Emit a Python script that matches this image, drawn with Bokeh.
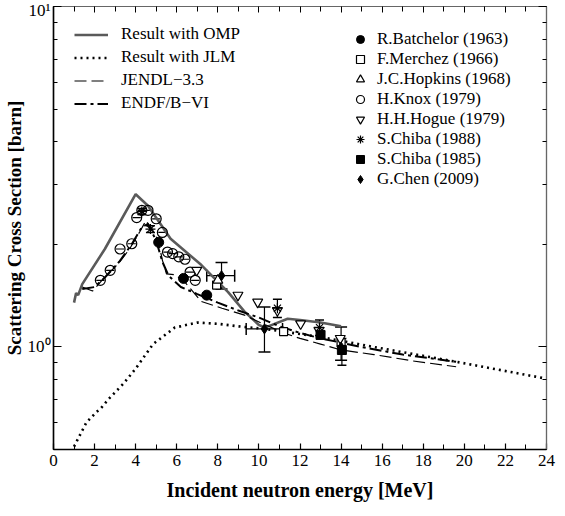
from bokeh.plotting import figure
from bokeh.models import (Range1d, FixedTicker, LinearAxis, LogAxis, Legend, LegendItem,
                          Whisker, ColumnDataSource, TeeHead, CustomLabelingPolicy)
from bokeh.embed import file_html
from bokeh.resources import INLINE

# ---------------- data ----------------
omp_e = [1.0, 1.1, 1.2, 1.4, 2.5, 4.0, 4.6, 5.7, 7.2, 8.5, 9.3, 10.0, 10.3, 11.4, 12.0, 13.0, 14.0]
omp_xs = [1.35, 1.44, 1.42, 1.53, 1.94, 2.81, 2.60, 2.08, 1.74, 1.45, 1.27, 1.16, 1.14, 1.21, 1.20, 1.18, 1.15]

jlm_e = [1.0, 1.6, 2.1, 2.3, 2.7, 3.4, 4.0, 4.85, 5.9, 7.0, 8.0, 9.0, 10.3, 13.0, 15.6, 19.6, 24.0]
jlm_xs = [0.51, 0.60, 0.645, 0.66, 0.705, 0.78, 0.864, 1.02, 1.14, 1.18, 1.17, 1.15, 1.13, 1.07, 1.0, 0.905, 0.807]

jendl_e = [1.4, 1.9, 2.4, 3.2, 3.7, 4.2, 4.5, 4.8, 5.1, 5.3, 5.5, 5.9, 6.4, 7.2, 8.2, 9.3, 10.2,
           11.2, 12.0, 13.0, 14.0, 15.6, 17.5, 19.6]
jendl_xs = [1.50, 1.46, 1.58, 1.77, 1.94, 2.18, 2.35, 2.22, 2.05, 1.80, 1.64, 1.63, 1.55, 1.36, 1.30,
            1.24, 1.17, 1.10, 1.06, 1.02, 0.98, 0.95, 0.91, 0.875]

endf_e = [1.4, 2.0, 2.5, 3.2, 3.8, 4.3, 4.6, 5.0, 5.3, 5.6, 6.2, 7.0, 8.0, 9.0, 10.0, 11.0, 12.0,
          13.0, 14.0, 15.0, 17.0, 19.6]
endf_xs = [1.48, 1.50, 1.60, 1.78, 2.00, 2.25, 2.30, 2.05, 1.78, 1.62, 1.50, 1.43, 1.35, 1.28, 1.22,
           1.15, 1.10, 1.06, 1.03, 1.00, 0.95, 0.905]

batchelor_e = [5.12, 6.33, 7.46]
batchelor_xs = [2.03, 1.59, 1.42]

merchez_e = [7.94, 11.2, 14.0]
merchez_xs = [1.52, 1.11, 1.03]

hopkins_e = [8.0]
hopkins_xs = [1.57]

knox_e = [2.28, 2.76, 3.24, 3.81, 4.05, 4.3, 4.6, 5.0, 5.3, 5.55, 5.8, 6.1, 6.4, 6.65, 6.9]
knox_xs = [1.57, 1.68, 1.94, 2.01, 2.40, 2.52, 2.52, 2.38, 2.17, 1.90, 1.88, 1.84, 1.81, 1.66, 1.57]

hogue_e = [6.97, 8.98, 9.94, 10.9, 12.03, 12.92, 13.96]
hogue_xs = [1.68, 1.42, 1.355, 1.28, 1.17, 1.12, 1.06]

chiba88_e = [4.3, 4.72, 10.9, 12.95]
chiba88_xs = [2.50, 2.22, 1.30, 1.14]
chiba88_lo = [2.45, 2.17, 1.22, 1.08]
chiba88_hi = [2.55, 2.27, 1.38, 1.20]

chiba85_e = [13.0, 14.04]
chiba85_xs = [1.085, 0.98]
chiba85_lo = [1.06, 0.884]
chiba85_hi = [1.11, 1.06]

chen_e = [8.18, 10.27, 14.0]
chen_xs = [1.62, 1.13, 1.0]
chen_xlo = [7.46, 9.38, 14.0]
chen_xhi = [8.82, 11.15, 14.0]
chen_lo = [1.48, 0.967, 0.914]
chen_hi = [1.77, 1.31, 1.145]

x_major = [0, 2, 4, 6, 8, 10, 12, 14, 16, 18, 20, 22, 24]
x_minor = [1, 3, 5, 7, 9, 11, 13, 15, 17, 19, 21, 23]
y_major = [1, 10]
y_minor = [0.5, 0.6, 0.7, 0.8, 0.9, 2, 3, 4, 5, 6, 7, 8, 9]
y_labels = {1: "10\u2070", 10: "10\u00b9"}

FONT = "Liberation Serif"

p = figure(width=557, height=506, x_range=Range1d(0, 24), y_range=Range1d(0.5, 10),
           y_axis_type="log", output_backend="svg", toolbar_location=None,
           min_border_left=49, min_border_right=11, min_border_top=6, min_border_bottom=57)
p.grid.visible = False
p.outline_line_color = "black"
p.outline_line_width = 1.2
p.background_fill_color = "white"
p.border_fill_color = "white"

xa = p.xaxis[0]
ya = p.yaxis[0]
xa.ticker = FixedTicker(ticks=x_major, minor_ticks=x_minor)
ya.ticker = FixedTicker(ticks=y_major, minor_ticks=y_minor)
ya.major_label_overrides = y_labels
xa.axis_label = "Incident neutron energy [MeV]"
ya.axis_label = "Scattering Cross Section [barn]"
for ax in (xa, ya):
    ax.major_tick_out = 0
    ax.minor_tick_out = 0
    ax.axis_line_width = 1.5
    ax.major_tick_line_width = 1.2
    ax.major_label_text_font = FONT
    ax.major_label_text_font_size = "17px"
    ax.major_label_text_color = "black"
    ax.axis_label_text_font = FONT
    ax.axis_label_text_font_style = "bold"
    ax.axis_label_text_color = "black"
xa.major_tick_in = 6
xa.minor_tick_in = 5
ya.major_tick_in = 8
ya.minor_tick_in = 4
xa.axis_label_text_font_size = "20px"
ya.axis_label_text_font_size = "19px"
xa.major_label_standoff = 5
xa.axis_label_standoff = 10
ya.major_label_standoff = 3
ya.axis_label_standoff = 0

no_labels = "return new Set()"
top = LinearAxis(ticker=FixedTicker(ticks=x_major, minor_ticks=x_minor),
                 major_label_policy=CustomLabelingPolicy(code=no_labels),
                 major_label_text_font_size="1px", major_label_standoff=0,
                 major_tick_in=6, major_tick_out=0, minor_tick_in=5, minor_tick_out=0,
                 axis_line_color="#666666")
right = LogAxis(ticker=FixedTicker(ticks=y_major, minor_ticks=y_minor),
                major_label_policy=CustomLabelingPolicy(code=no_labels),
                major_label_text_font_size="1px", major_label_standoff=0,
                major_tick_in=8, major_tick_out=0, minor_tick_in=4, minor_tick_out=0,
                axis_line_color="#666666")
p.add_layout(top, "above")
p.add_layout(right, "right")

# ---------------- curves ----------------
r_omp = p.line(omp_e, omp_xs, line_color="#5a5a5a", line_width=2.6)
r_jlm = p.line(jlm_e, jlm_xs, line_color="black", line_width=2.6, line_dash="2 4")
r_jendl = p.line(jendl_e, jendl_xs, line_color="black", line_width=1.2, line_dash="12 5")
r_endf = p.line(endf_e, endf_xs, line_color="black", line_width=2.0, line_dash="12 4 3 4")

# ---------------- error bars ----------------
def yerr(e, lo, hi, size=9):
    src = ColumnDataSource(dict(x=e, lo=lo, hi=hi))
    w = Whisker(base="x", lower="lo", upper="hi", source=src, dimension="height",
                line_color="black", line_width=1.2,
                upper_head=TeeHead(size=size, line_width=1.5),
                lower_head=TeeHead(size=size, line_width=1.5))
    p.add_layout(w)

def xerr(y, lo, hi, size=9, heads=True):
    src = ColumnDataSource(dict(y=y, lo=lo, hi=hi))
    w = Whisker(base="y", lower="lo", upper="hi", source=src, dimension="width",
                line_color="black", line_width=1.2,
                upper_head=TeeHead(size=size, line_width=1.5) if heads else None,
                lower_head=TeeHead(size=size, line_width=1.5) if heads else None)
    p.add_layout(w)

yerr(chiba88_e, chiba88_lo, chiba88_hi)
yerr(chiba85_e, chiba85_lo, chiba85_hi)
yerr(chen_e, chen_lo, chen_hi, size=12)
xerr(chen_xs, chen_xlo, chen_xhi, size=12)
knox_lo = [e - 0.2 for e in knox_e]
knox_hi = [e + 0.2 for e in knox_e]
xerr(knox_xs, knox_lo, knox_hi, heads=False)

# ---------------- markers ----------------
r_bat = p.scatter(batchelor_e, batchelor_xs, marker="circle", size=10, fill_color="black", line_color="black")
r_mer = p.scatter(merchez_e, merchez_xs, marker="square", size=8, fill_color="white", line_color="black", line_width=1.2)
r_hop = p.scatter(hopkins_e, hopkins_xs, marker="triangle", size=10, fill_color="white", line_color="black", line_width=1.2)
r_kno = p.scatter(knox_e, knox_xs, marker="circle", size=10, fill_color=None, line_color="black", line_width=1.2)
r_hog = p.scatter(hogue_e, hogue_xs, marker="inverted_triangle", size=10, fill_color="white", line_color="black", line_width=1.2)
r_c88 = p.scatter(chiba88_e, chiba88_xs, marker="asterisk", size=10, line_color="black", line_width=1.2)
r_c85 = p.scatter(chiba85_e, chiba85_xs, marker="square", size=9, fill_color="black", line_color="black")
r_che = p.scatter(chen_e, chen_xs, marker="diamond", size=10, fill_color="black", line_color="black")

leg_common = dict(label_text_font=FONT, label_text_font_size="17px", label_text_color="black",
                  padding=0, margin=0, border_line_alpha=0, background_fill_alpha=0)

leg1 = Legend(items=[LegendItem(label="Result with OMP", renderers=[r_omp]),
                     LegendItem(label="Result with JLM", renderers=[r_jlm]),
                     LegendItem(label="JENDL\u22123.3", renderers=[r_jendl]),
                     LegendItem(label="ENDF/B\u2212VI", renderers=[r_endf])],
              location=(21, 336), glyph_width=34, glyph_height=17, label_height=17, spacing=3,
              label_standoff=13, **leg_common)
leg2 = Legend(items=[LegendItem(label="R.Batchelor (1963)", renderers=[r_bat]),
                     LegendItem(label="F.Merchez (1966)", renderers=[r_mer]),
                     LegendItem(label="J.C.Hopkins (1968)", renderers=[r_hop]),
                     LegendItem(label="H.Knox (1979)", renderers=[r_kno]),
                     LegendItem(label="H.H.Hogue (1979)", renderers=[r_hog]),
                     LegendItem(label="S.Chiba (1988)", renderers=[r_c88]),
                     LegendItem(label="S.Chiba (1985)", renderers=[r_c85]),
                     LegendItem(label="G.Chen (2009)", renderers=[r_che])],
              location=(295, 260), glyph_width=24, glyph_height=20, label_height=20, spacing=0,
              label_standoff=5, **leg_common)
p.add_layout(leg1)
p.add_layout(leg2)

open("out.html", "w").write(file_html(p, INLINE))
